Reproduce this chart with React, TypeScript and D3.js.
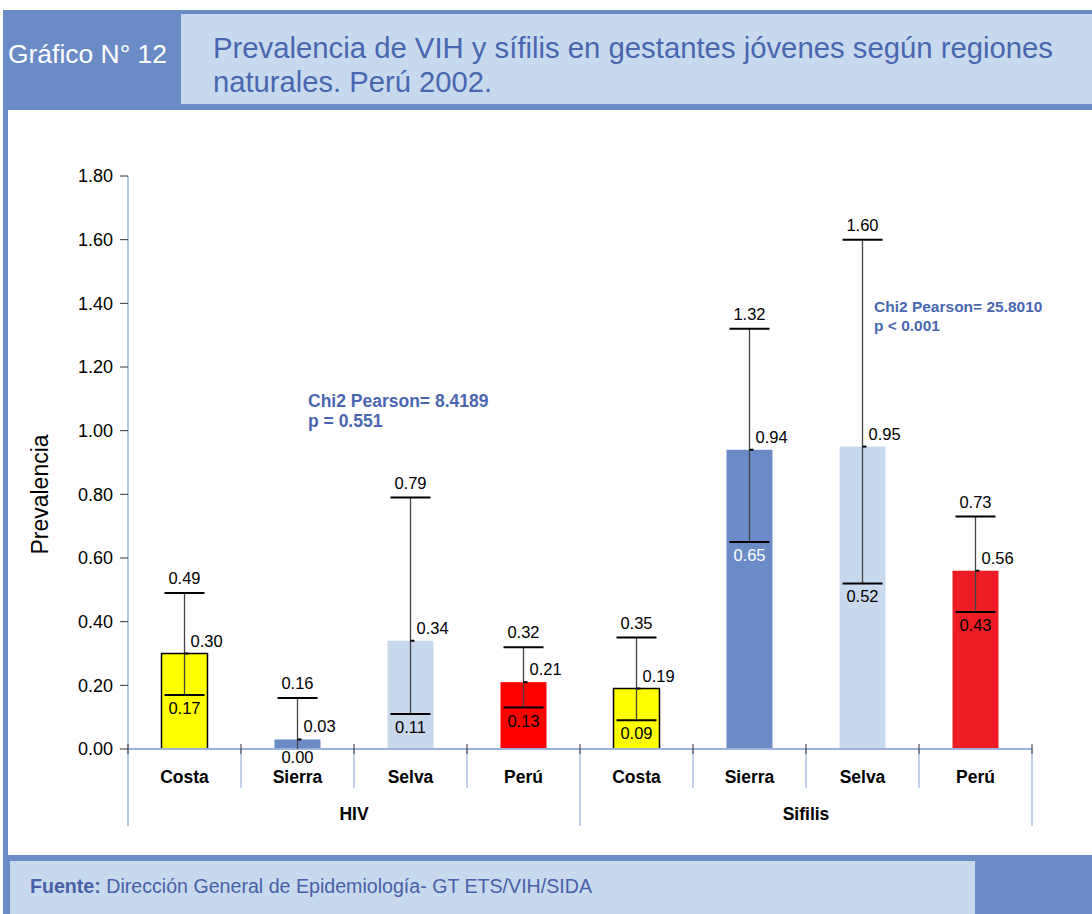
import React from 'react';
import * as d3 from 'd3';

// data
const groups = ['HIV', 'Sifilis'];
const regions = ['Costa', 'Sierra', 'Selva', 'Perú'];
const hivValue = [0.30, 0.03, 0.34, 0.21];
const hivLower = [0.17, 0.00, 0.11, 0.13];
const hivUpper = [0.49, 0.16, 0.79, 0.32];
const sifValue = [0.19, 0.94, 0.95, 0.56];
const sifLower = [0.09, 0.65, 0.52, 0.43];
const sifUpper = [0.35, 1.32, 1.60, 0.73];
const yTicks = [0, 0.2, 0.4, 0.6, 0.8, 1.0, 1.2, 1.4, 1.6, 1.8];
const chiTexts = [
  ['Chi2 Pearson= 8.4189', 'p = 0.551'],
  ['Chi2 Pearson= 25.8010', 'p < 0.001'],
];

const colors = {
  Costa: '#ffff00',
  Sierra: '#6b8bc7',
  Selva: '#c8d9ee',
  Perú: ['#ff0000', '#ee1c24'],
};

const DARK = '#6b8bc7';
const LIGHT = '#c8d9ee';
const AXIS = '#9db3dc';
const TEXTBLUE = '#4a66b1';
const FONT = '"Liberation Sans", Arial, sans-serif';

export default function App() {
  document.body.style.margin = '0';

  const W = 1092;
  const H = 914;

  const rows = [];
  groups.forEach((g, gi) => {
    const v = gi === 0 ? hivValue : sifValue;
    const lo = gi === 0 ? hivLower : sifLower;
    const up = gi === 0 ? hivUpper : sifUpper;
    regions.forEach((r, ri) => {
      rows.push({ key: g + '-' + r, group: g, gi, region: r, ri, value: v[ri], lower: lo[ri], upper: up[ri] });
    });
  });

  const x = d3.scaleBand()
    .domain(rows.map(d => d.key))
    .range([128, 1032])
    .paddingInner(0.593)
    .paddingOuter(0.2965);
  const step = x.step();

  const y = d3.scaleLinear().domain([0, 1.8]).range([749, 176]);
  const fmt = d3.format('.2f');

  const fill = d => {
    const c = colors[d.region];
    return Array.isArray(c) ? c[d.gi] : c;
  };

  const groupStart = gi => x(rows[gi * 4].key) - step * 0.2965;
  const groupEnd = gi => groupStart(gi) + step * 4;

  return (
    <svg width={W} height={H} style={{ display: 'block' }}>
      <rect x={0} y={0} width={W} height={H} fill="#fff" />

      {/* header */}
      <rect x={3} y={10} width={W - 3} height={4} fill={DARK} />
      <rect x={3} y={10} width={178} height={100} fill={DARK} />
      <rect x={181} y={14} width={W - 181} height={90} fill={LIGHT} />
      <rect x={181} y={104} width={W - 181} height={6} fill={DARK} />
      <text x={8} y={63} fill="#fff" fontSize={25} fontFamily={FONT} textLength={159} lengthAdjust="spacingAndGlyphs">Gráfico N° 12</text>
      <text x={213} y={58} fill={TEXTBLUE} fontSize={29} fontFamily={FONT} textLength={840} lengthAdjust="spacingAndGlyphs">Prevalencia de VIH y sífilis en gestantes jóvenes según regiones</text>
      <text x={213} y={92} fill={TEXTBLUE} fontSize={29} fontFamily={FONT} textLength={279} lengthAdjust="spacingAndGlyphs">naturales. Perú 2002.</text>

      {/* left frame line */}
      <rect x={3} y={110} width={5} height={750} fill={DARK} />

      {/* footer */}
      <rect x={3} y={855} width={W - 3} height={H - 855} fill={DARK} />
      <rect x={10} y={861} width={965} height={H - 861} fill={LIGHT} />
      <text x={30} y={893} fontSize={20} fontFamily={FONT} fill="#4a5fa9" textLength={562} lengthAdjust="spacingAndGlyphs">
        <tspan fontWeight="bold">Fuente:</tspan>
        <tspan> Dirección General de Epidemiología- GT ETS/VIH/SIDA</tspan>
      </text>

      {/* y axis */}
      <line x1={128} x2={128} y1={y(1.8)} y2={826} stroke={AXIS} strokeWidth={1.5} />
      {yTicks.map(t => (
        <g key={t}>
          <line x1={120} x2={128} y1={y(t)} y2={y(t)} stroke="#333" strokeWidth={1} />
          <text x={113} y={y(t)} dy="0.35em" textAnchor="end" fontSize={18} fontFamily={FONT} fill="#000">{fmt(t)}</text>
        </g>
      ))}
      <text transform={`translate(48,${(y(0) + y(1.8)) / 2 + 32}) rotate(-90)`} textAnchor="middle" fontSize={23} fontFamily={FONT} fill="#000">Prevalencia</text>

      {/* bars */}
      {rows.map(d => (
        <rect key={d.key} x={x(d.key)} y={y(d.value)} width={x.bandwidth()} height={y(0) - y(d.value)}
          fill={fill(d)} stroke={d.region === 'Costa' ? '#000' : 'none'} strokeWidth={1.5} />
      ))}

      {/* x axis */}
      <line x1={128} x2={1032} y1={y(0)} y2={y(0)} stroke={AXIS} strokeWidth={2} />
      {rows.map((d, i) => {
        const sx = x(d.key) - step * 0.2965;
        const outer = i % 4 === 0;
        return (
          <g key={'sep' + d.key}>
            {i > 0 && <line x1={sx} x2={sx} y1={y(0)} y2={outer ? 826 : 788} stroke={AXIS} strokeWidth={1.2} />}
            <line x1={sx} x2={sx} y1={y(0) - 5} y2={y(0) + 5} stroke="#333" strokeWidth={1} />
          </g>
        );
      })}
      <line x1={1032} x2={1032} y1={y(0)} y2={826} stroke={AXIS} strokeWidth={1.2} />
      <line x1={1032} x2={1032} y1={y(0) - 5} y2={y(0) + 5} stroke="#333" strokeWidth={1} />

      {rows.map(d => (
        <text key={'lab' + d.key} x={x(d.key) + x.bandwidth() / 2} y={783} textAnchor="middle"
          fontSize={17.5} fontWeight="bold" fontFamily={FONT} fill="#000">{d.region}</text>
      ))}
      {groups.map((g, gi) => (
        <text key={g} x={(groupStart(gi) + groupEnd(gi)) / 2} y={820} textAnchor="middle"
          fontSize={17.5} fontWeight="bold" fontFamily={FONT} fill="#000">{g}</text>
      ))}

      {/* error bars and labels */}
      {rows.map(d => {
        const cx = x(d.key) + x.bandwidth() / 2;
        const inDark = d.region === 'Sierra' && d.gi === 1;
        return (
          <g key={'err' + d.key} fontFamily={FONT} fontSize={16.5}>
            <line x1={cx} x2={cx} y1={y(d.upper)} y2={y(d.lower)} stroke="#444" strokeWidth={1.3} />
            <line x1={cx - 20} x2={cx + 20} y1={y(d.upper)} y2={y(d.upper)} stroke="#000" strokeWidth={2} />
            {d.lower > 0 && <line x1={cx - 20} x2={cx + 20} y1={y(d.lower)} y2={y(d.lower)} stroke="#000" strokeWidth={2} />}
            <line x1={cx} x2={cx + 4} y1={y(d.value)} y2={y(d.value)} stroke="#000" strokeWidth={2} />
            <text x={cx} y={y(d.upper) - 9} textAnchor="middle" fill="#000">{fmt(d.upper)}</text>
            <text x={cx + 6} y={y(d.value) - 7} fill="#000">{fmt(d.value)}</text>
            <text x={cx} y={y(d.lower) + (d.lower > 0 ? 19 : 14)} textAnchor="middle" fill={inDark ? '#fff' : '#000'}>{fmt(d.lower)}</text>
          </g>
        );
      })}

      {/* chi2 annotations */}
      <text x={308} y={407} fontSize={17.5} fontWeight="bold" fontFamily={FONT} fill={TEXTBLUE}>
        <tspan x={308}>{chiTexts[0][0]}</tspan>
        <tspan x={308} dy={20}>{chiTexts[0][1]}</tspan>
      </text>
      <text x={874} y={312} fontSize={15.5} fontWeight="bold" fontFamily={FONT} fill={TEXTBLUE}>
        <tspan x={874}>{chiTexts[1][0]}</tspan>
        <tspan x={874} dy={19}>{chiTexts[1][1]}</tspan>
      </text>
    </svg>
  );
}
